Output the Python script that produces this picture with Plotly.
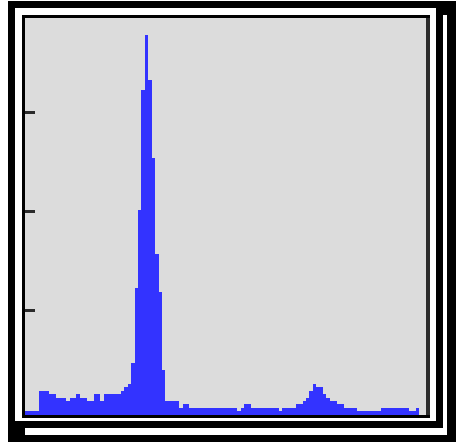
import plotly.graph_objects as go

# Histogram counts per channel bin (115 bins)
counts = (
    [4, 4, 4, 4, 24, 24, 24, 21, 21, 17, 17, 17, 14, 17, 17, 21, 17, 17, 14, 14,
     21, 21, 14, 21, 21, 21, 21, 21, 24, 28, 31, 52, 128, 207, 327, 383, 338, 259,
     162, 124, 45, 14, 14, 14, 14, 7, 11, 11]
    + [7] * 14
    + [4, 7, 11, 11]
    + [7] * 8
    + [4, 7, 7, 7, 7, 11, 11, 14, 17, 24, 31, 28, 28, 21, 17, 14, 14, 11, 11,
       7, 7, 7, 7]
    + [4] * 7
    + [7] * 8
    + [4, 4, 7]
)
bins = [i + 0.5 for i in range(len(counts))]
x_max = 117.05
y_range = [0, 400]
y_ticks = [105, 205, 305]

W, H = 456, 442
L, R, T, B = 25, 426, 18, 415  # plot area in pixels


def px(x):
    return (x - L) / (R - L)


def py(y):
    return (B - y) / (B - T)


def box(x0, y0, x1, y1, color):
    return dict(type="rect", xref="paper", yref="paper", layer="below",
                x0=px(x0), x1=px(x1), y0=py(y1), y1=py(y0),
                fillcolor=color, line=dict(width=0))


shapes = [
    box(8, 1, 456, 442, "#000000"),      # outer frame
    box(15, 8, 436, 421, "#ffffff"),
    box(443, 15, 447, 435, "#ffffff"),   # offset double rule
    box(25, 428, 447, 435, "#ffffff"),
    box(22, 15, 430, 418, "#000000"),    # plot border
    box(426, 18, 430, 415, "#2b2b2b"),
    box(25, 18, 426, 415, "#dcdcdc"),    # plot background
]

fig = go.Figure(
    go.Bar(x=bins, y=counts, width=1.0,
           marker=dict(color="#3333ff", line=dict(width=0)))
)
fig.update_layout(
    width=W, height=H,
    margin=dict(l=L, r=W - R, t=T, b=H - B, pad=0),
    paper_bgcolor="#ffffff", plot_bgcolor="#dcdcdc",
    bargap=0, showlegend=False, shapes=shapes,
)
fig.update_xaxes(range=[0, x_max], showgrid=False, zeroline=False,
                 showline=False, showticklabels=False, ticks="")
fig.update_yaxes(range=y_range, showgrid=False, zeroline=False,
                 showline=False, showticklabels=False, ticks="inside",
                 tickvals=y_ticks, ticklen=10, tickwidth=3,
                 tickcolor="#2a2a2a")
fig.write_html("out.html")
